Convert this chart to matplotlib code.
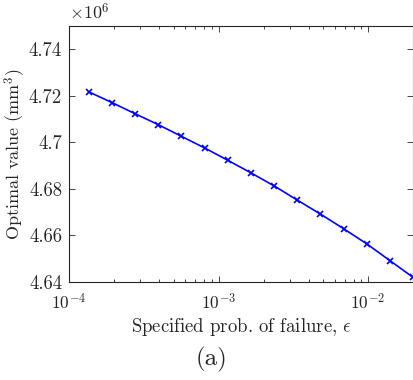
import matplotlib as mpl
mpl.use("Agg")
import matplotlib.pyplot as plt
from matplotlib.ticker import FuncFormatter, LogLocator, NullFormatter

# specified probability of failure (epsilon) and optimal volume (mm^3)
EPS = [1.356e-4, 1.937e-4, 2.767e-4, 3.953e-4, 5.648e-4, 8.068e-4, 1.153e-3,
       1.647e-3, 2.353e-3, 3.361e-3, 4.802e-3, 6.860e-3, 9.800e-3, 1.400e-2, 2.000e-2]
OPT_VALUE = [4.7217e6, 4.7171e6, 4.7123e6, 4.7076e6, 4.7026e6, 4.6976e6, 4.6923e6,
             4.6869e6, 4.6813e6, 4.6752e6, 4.6692e6, 4.6629e6, 4.6564e6, 4.6492e6, 4.6420e6]

Y_TICKS = [4.64e6, 4.66e6, 4.68e6, 4.70e6, 4.72e6, 4.74e6]

TEXT = "#262626"

mpl.rcParams.update({
    "font.family": "serif",
    "font.serif": ["cmr10", "DejaVu Serif"],
    "mathtext.fontset": "cm",
    "axes.formatter.use_mathtext": True,
    "axes.unicode_minus": False,
    "font.size": 13,
    "axes.edgecolor": TEXT,
    "axes.labelcolor": TEXT,
    "text.color": TEXT,
    "xtick.color": TEXT,
    "ytick.color": TEXT,
    "axes.linewidth": 0.8,
})

fig = plt.figure(figsize=(4.14, 3.80), dpi=100)
ax = fig.add_axes([0.1667, 0.2579, 0.8310, 0.6737])

ax.plot(EPS, OPT_VALUE, color="#0000ff", linewidth=1.2, marker="x",
        markersize=4.5, markeredgewidth=1.2)

ax.set_xscale("log")
ax.set_xlim(1e-4, 2e-2)
ax.set_ylim(4.64e6, 4.75e6)
ax.set_yticks(Y_TICKS)
ax.yaxis.set_major_formatter(FuncFormatter(lambda v, p: f"{v / 1e6:g}"))
ax.xaxis.set_major_locator(LogLocator(base=10, numticks=10))
ax.xaxis.set_minor_locator(LogLocator(base=10, subs=range(2, 10), numticks=10))
ax.xaxis.set_minor_formatter(NullFormatter())

ax.tick_params(which="both", direction="in", top=True, right=True, pad=5)
ax.tick_params(axis="y", labelsize=13.5)
ax.tick_params(axis="x", labelsize=12.5, pad=7)
ax.tick_params(which="major", length=4.5, width=0.6)
ax.tick_params(which="minor", length=2.5, width=0.6)

ax.text(0.0, 1.015, r"$\times10^{6}$", transform=ax.transAxes, ha="left", va="bottom", fontsize=13)

ax.set_ylabel(r"Optimal value (mm$^3$)", fontsize=13)
ax.yaxis.set_label_coords(-0.119, 0.5)
ax.set_xlabel(r"Specified prob. of failure, $\epsilon$", fontsize=13.5)
ax.xaxis.set_label_coords(0.5, -0.133)
fig.text(0.51, 0.054, "(a)", ha="center", va="center", fontsize=18)

fig.savefig("out.png", dpi=100)
